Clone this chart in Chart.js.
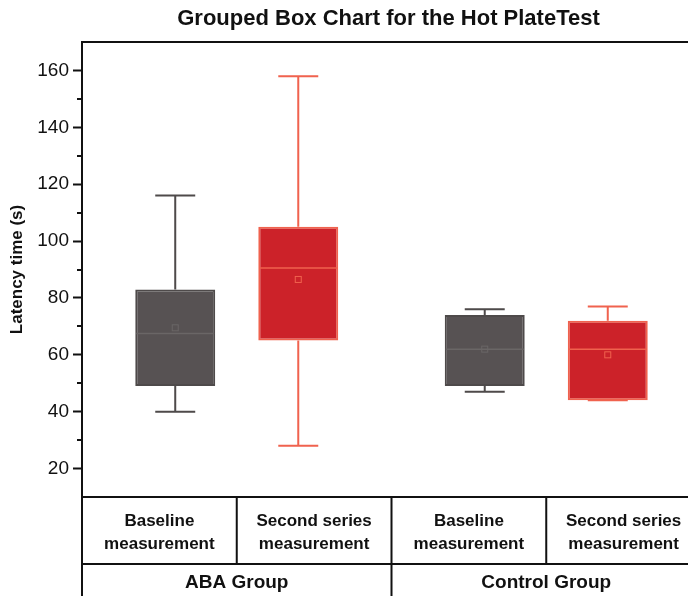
<!DOCTYPE html>
<html>
<head>
    <title>Grouped Box Chart for the Hot PlateTest</title>
    <script src="https://cdn.jsdelivr.net/npm/chart.js"></script>
    <style>
        body { margin: 0; overflow: hidden; background: #fff; }
        #wrap { width: 712px; height: 596px; }
    </style>
</head>
<body>
<div id="wrap"><canvas id="boxChart" width="712" height="596"></canvas></div>
<script>
    // data
    const groups = ["ABA Group", "Control Group"];
    const seriesNames = [["Baseline", "measurement"], ["Second series", "measurement"]];
    const baseMin = [40, 47];
    const baseQ1 = [49, 49];
    const baseMedian = [67.5, 62];
    const baseMean = [69.5, 62];
    const baseQ3 = [83, 74];
    const baseMax = [116, 76];
    const secondMin = [28, 44];
    const secondQ1 = [65, 44];
    const secondMedian = [90.5, 62];
    const secondMean = [86.5, 60];
    const secondQ3 = [105, 72];
    const secondMax = [158, 77];
    const yTicks = [20, 40, 60, 80, 100, 120, 140, 160];
    const yMinorTicks = [30, 50, 70, 90, 110, 130, 150];

    const FONT = "'Liberation Sans', Arial, sans-serif";
    const boxStats = [
        { min: baseMin, q1: baseQ1, med: baseMedian, mean: baseMean, q3: baseQ3, max: baseMax,
          line: '#4e4a4a', medLine: '#6a6666' },
        { min: secondMin, q1: secondQ1, med: secondMedian, mean: secondMean, q3: secondQ3, max: secondMax,
          line: '#f0624e', medLine: '#f0624e' }
    ];

    const boxPlugin = {
        id: 'boxExtras',
        afterDatasetsDraw(chart) {
            const ctx = chart.ctx;
            const y = chart.scales.y;
            boxStats.forEach((s, di) => {
                const meta = chart.getDatasetMeta(di);
                meta.data.forEach((bar, i) => {
                    const x = bar.x, w = bar.width;
                    ctx.save();
                    ctx.strokeStyle = s.line;
                    ctx.lineWidth = 2;
                    ctx.beginPath();
                    // whiskers
                    ctx.moveTo(x, y.getPixelForValue(s.max[i]));
                    ctx.lineTo(x, y.getPixelForValue(s.q3[i]));
                    ctx.moveTo(x, y.getPixelForValue(s.q1[i]));
                    ctx.lineTo(x, y.getPixelForValue(s.min[i]));
                    // caps
                    ctx.moveTo(x - w / 4, y.getPixelForValue(s.max[i]));
                    ctx.lineTo(x + w / 4, y.getPixelForValue(s.max[i]));
                    ctx.moveTo(x - w / 4, y.getPixelForValue(s.min[i]));
                    ctx.lineTo(x + w / 4, y.getPixelForValue(s.min[i]));
                    ctx.stroke();
                    // median
                    ctx.strokeStyle = s.medLine;
                    ctx.lineWidth = 1.5;
                    ctx.beginPath();
                    ctx.moveTo(x - w / 2 + 1, y.getPixelForValue(s.med[i]));
                    ctx.lineTo(x + w / 2 - 1, y.getPixelForValue(s.med[i]));
                    ctx.stroke();
                    // mean marker
                    ctx.lineWidth = 1;
                    const my = y.getPixelForValue(s.mean[i]);
                    ctx.strokeRect(x - 3, my - 3, 6, 6);
                    ctx.restore();
                });
            });
        },
        afterDraw(chart) {
            const ctx = chart.ctx;
            const a = chart.chartArea;
            const xs = chart.scales.x;
            const y = chart.scales.y;
            const bottom = chart.height;
            const row1 = a.bottom + 67;
            ctx.save();
            // minor ticks
            ctx.strokeStyle = '#111';
            ctx.lineWidth = 2;
            ctx.beginPath();
            yMinorTicks.forEach(v => {
                const py = Math.round(y.getPixelForValue(v));
                ctx.moveTo(a.left - 5, py);
                ctx.lineTo(a.left, py);
            });
            ctx.stroke();
            // frame and table lines
            ctx.beginPath();
            ctx.moveTo(a.right, a.top);
            ctx.lineTo(a.left, a.top);
            ctx.lineTo(a.left, bottom);
            ctx.moveTo(a.left, a.bottom);
            ctx.lineTo(a.right, a.bottom);
            ctx.moveTo(a.left, row1);
            ctx.lineTo(a.right, row1);
            const half = (a.right - a.left) / groups.length / 2;
            groups.forEach((g, i) => {
                const c = xs.getPixelForValue(i);
                ctx.moveTo(c, a.bottom);
                ctx.lineTo(c, row1);
                if (i > 0) {
                    ctx.moveTo(c - half, a.bottom);
                    ctx.lineTo(c - half, bottom);
                }
            });
            ctx.moveTo(a.right, a.top);
            ctx.lineTo(a.right, bottom);
            ctx.stroke();
            // labels
            ctx.fillStyle = '#111';
            ctx.textAlign = 'center';
            ctx.textBaseline = 'middle';
            const mid1 = (a.bottom + row1) / 2;
            groups.forEach((g, i) => {
                const c = xs.getPixelForValue(i);
                ctx.font = 'bold 17px ' + FONT;
                seriesNames.forEach((lines, si) => {
                    const cx = c + (si === 0 ? -half / 2 : half / 2);
                    ctx.fillText(lines[0], cx, mid1 - 9);
                    ctx.fillText(lines[1], cx, mid1 + 14);
                });
                ctx.font = 'bold 19px ' + FONT;
                ctx.fillText(g, c, (row1 + bottom) / 2 + 3);
            });
            // title centred over the plot
            ctx.font = 'bold 22px ' + FONT;
            ctx.fillText('Grouped Box Chart for the Hot PlateTest', (a.left + 695) / 2, 19);
            ctx.restore();
        }
    };

    new Chart(document.getElementById('boxChart').getContext('2d'), {
        type: 'bar',
        data: {
            labels: groups,
            datasets: [
                {
                    label: 'Baseline measurement',
                    data: groups.map((g, i) => [baseQ1[i], baseQ3[i]]),
                    backgroundColor: '#575253',
                    borderColor: '#4e4a4a',
                    borderWidth: 2,
                    borderSkipped: false
                },
                {
                    label: 'Second series measurement',
                    data: groups.map((g, i) => [secondQ1[i], secondQ3[i]]),
                    backgroundColor: '#cc2229',
                    borderColor: '#f0624e',
                    borderWidth: 2,
                    borderSkipped: false
                }
            ]
        },
        options: {
            responsive: false,
            animation: false,
            categoryPercentage: 0.795,
            barPercentage: 0.65,
            layout: { padding: { top: 42, right: 11, bottom: 99, left: 0 } },
            plugins: {
                legend: { display: false },
                tooltip: { enabled: false },
                title: { display: false }
            },
            scales: {
                x: { display: false },
                y: {
                    min: 10,
                    max: 170,
                    afterBuildTicks: axis => { axis.ticks = yTicks.map(v => ({ value: v })); },
                    afterFit: axis => { axis.width = 82; },
                    grid: { drawOnChartArea: false, tickLength: 9, tickColor: '#111', tickWidth: 2 },
                    border: { display: false },
                    ticks: { font: { family: FONT, size: 19 }, color: '#111', padding: 4 },
                    title: {
                        display: true,
                        text: 'Latency time (s)',
                        font: { family: FONT, size: 17, weight: 'bold' },
                        color: '#111',
                        padding: { top: 7, bottom: 0 }
                    }
                }
            }
        },
        plugins: [boxPlugin]
    });
</script>
</body>
</html>
